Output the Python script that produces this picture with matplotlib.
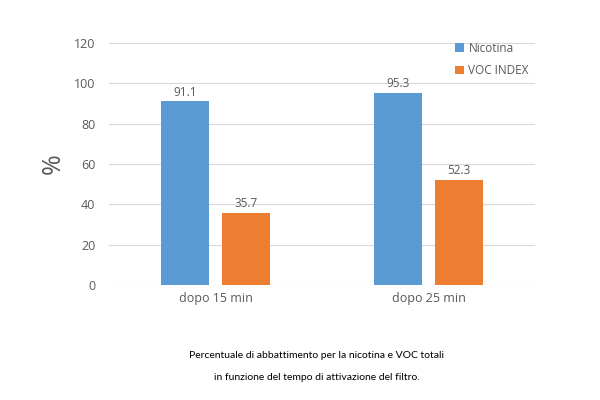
import numpy as np
import matplotlib.pyplot as plt

# dati
categorie = ['dopo 15 min', 'dopo 25 min']
nicotina = [91.1, 95.3]
voc_index = [35.7, 52.3]
etichette_y = [0, 20, 40, 60, 80, 100, 120]

blu = '#5B9BD5'
arancio = '#ED7D31'
grigio = '#595959'

plt.rcParams['font.family'] = ['Open Sans', 'DejaVu Sans']

fig = plt.figure(figsize=(6, 4), dpi=100)
ax = fig.add_axes([0.182, 0.2875, 0.71, 0.605])

x = np.arange(len(categorie))
larghezza = 0.225
sposta = 0.142

b1 = ax.bar(x - sposta, nicotina, larghezza, color=blu, label='Nicotina', zorder=3)
b2 = ax.bar(x + sposta, voc_index, larghezza, color=arancio, label='VOC INDEX', zorder=3)

ax.bar_label(b1, fmt='%.1f', padding=2, fontsize=8.5, color=grigio)
ax.bar_label(b2, fmt='%.1f', padding=2, fontsize=8.5, color=grigio)

ax.set_xlim(-0.5, 1.5)
ax.set_ylim(0, 120)
ax.set_yticks(etichette_y)
ax.set_xticks(x)
ax.set_xticklabels(categorie)
ax.tick_params(axis='both', length=0, colors=grigio, labelsize=9)
ax.tick_params(axis='y', pad=10)
ax.tick_params(axis='x', pad=5)

# griglia orizzontale
ax.grid(axis='y', color='#D9D9D9', linewidth=0.8, zorder=0)
for s in ax.spines.values():
    s.set_visible(False)

ax.set_ylabel('%', fontsize=18, color=grigio, labelpad=6)

ax.legend(loc='upper right', frameon=False, fontsize=8.5, labelcolor=grigio,
          handlelength=0.7, handleheight=0.7, handletextpad=0.4,
          labelspacing=0.8, bbox_to_anchor=(1.01, 1.05))

# didascalia
fig.text(0.528, 0.112, 'Percentuale di abbattimento per la nicotina e VOC totali',
         ha='center', va='center', fontsize=7.5, family=['Lato', 'DejaVu Sans'])
fig.text(0.528, 0.057, 'in funzione del tempo di attivazione del filtro.',
         ha='center', va='center', fontsize=7.5, family=['Lato', 'DejaVu Sans'])

plt.savefig('out.png', dpi=100)
